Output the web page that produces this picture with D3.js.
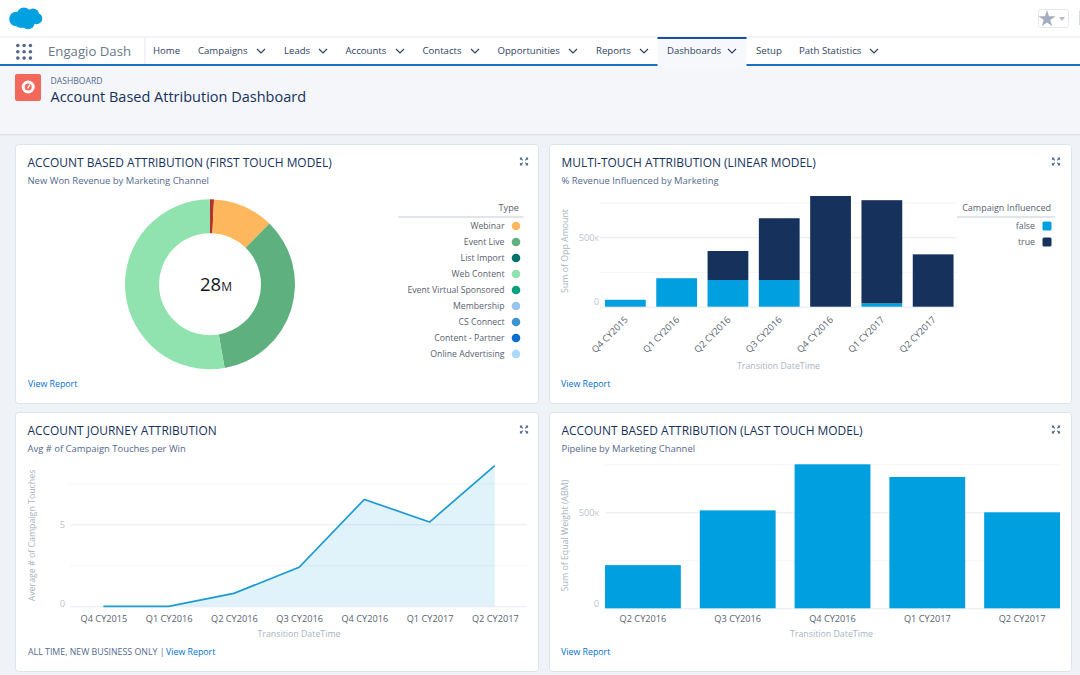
<!DOCTYPE html>
<html>
<head>
<meta charset="utf-8">
<title>Account Based Attribution Dashboard</title>
<script src="https://cdn.jsdelivr.net/npm/d3@7"></script>
<style>
  html, body { margin: 0; padding: 0; background: #f4f6f9; overflow: hidden; }
  svg { display: block; }
  text { font-family: "Open Sans", "Noto Sans", sans-serif; }
  .domain { display: none; }
</style>
</head>
<body>
<svg id="page" width="1080" height="675"></svg>
<script>
// nav bar
var navItems = ['Home', 'Campaigns', 'Leads', 'Accounts', 'Contacts', 'Opportunities', 'Reports', 'Dashboards', 'Setup', 'Path Statistics'];
var navX = [153, 198, 284, 345.5, 422.5, 497.5, 596, 667, 756, 799];
var navChevronX = [null, 261, 323, 400, 475, 573, 644, 732, null, 874];

// donut
var donutNames = ['Unlabelled', 'Webinar', 'Event Live', 'Web Content'];
var donutValues = [0.21, 3.24, 9.78, 14.77];
var donutColors = ['#b5332b', '#ffb75d', '#5eb17e', '#90e3ae'];
var legendTypes = ['Webinar', 'Event Live', 'List Import', 'Web Content', 'Event Virtual Sponsored', 'Membership', 'CS Connect', 'Content - Partner', 'Online Advertising'];
var legendColors = ['#ffb75d', '#5eb17e', '#00716b', '#90e3ae', '#04a07a', '#97c4f1', '#3a94cd', '#0b6fd0', '#a9daf7'];

// multi touch
var quarters = ['Q4 CY2015', 'Q1 CY2016', 'Q2 CY2016', 'Q3 CY2016', 'Q4 CY2016', 'Q1 CY2017', 'Q2 CY2017'];
var influencedFalse = [50000, 205000, 192000, 192000, 0, 24000, 0];
var influencedTrue = [0, 0, 209000, 445000, 797000, 743000, 377000];

// journey
var touches = [0, 0, 0.79, 2.38, 6.52, 5.14, 8.58];

// last touch
var pipelineQuarters = ['Q2 CY2016', 'Q3 CY2016', 'Q4 CY2016', 'Q1 CY2017', 'Q2 CY2017'];
var pipeline = [225000, 510000, 750000, 684000, 500000];

var moneyTicks = [0, 250000, 500000, 750000];
var touchTicks = [0, 2.5, 5, 7.5];

var BLUE = '#009fe0', NAVY = '#16325c', SLATE = '#54698d', LINK = '#0070d2', FAINT = '#a8b4c2', GREY = '#58626f';

var svg = d3.select('#page');

function label(parent, x, y, str, size, color, anchor) {
  return parent.append('text').attr('x', x).attr('y', y).attr('dy', '.35em')
    .attr('font-size', size).attr('fill', color).attr('text-anchor', anchor || 'start').text(str);
}

function drawChrome() {
  svg.append('rect').attr('width', 1080).attr('height', 37).attr('fill', '#fff');
  svg.append('rect').attr('y', 37).attr('width', 1080).attr('height', 27).attr('fill', '#fff');
  svg.append('rect').attr('y', 36.5).attr('width', 1080).attr('height', 1).attr('fill', '#e4e8ee');
  svg.append('rect').attr('y', 64).attr('width', 1080).attr('height', 2).attr('fill', '#1a6fc0');
  svg.append('rect').attr('y', 135).attr('width', 1080).attr('height', 540).attr('fill', '#eff3f7');
  svg.append('rect').attr('y', 134).attr('width', 1080).attr('height', 1.5).attr('fill', '#dfe3e9');

  // cloud logo
  var cloud = svg.append('g').attr('fill', '#00a1e0');
  [[16.5, 19, 7.3], [24, 14.5, 7], [33, 14.5, 6], [36.5, 18.5, 5.8], [28, 22.5, 6.8], [21, 22, 6]].forEach(function(c) {
    cloud.append('circle').attr('cx', c[0]).attr('cy', c[1]).attr('r', c[2]);
  });

  // star button
  svg.append('rect').attr('x', 1038.5).attr('y', 9.5).attr('width', 30).attr('height', 18).attr('rx', 2)
    .attr('fill', '#fff').attr('stroke', '#e4e8ee');
  svg.append('path').attr('d', d3.symbol(d3.symbolStar, 90)()).attr('transform', 'translate(1047,19)').attr('fill', '#a2aebd');
  svg.append('path').attr('d', 'M1059,17h6l-3,4z').attr('fill', '#b4bdc9');
  svg.append('rect').attr('x', 1079).attr('y', 11).attr('width', 1).attr('height', 14).attr('fill', '#d5dae1');

  // app launcher dots
  d3.range(3).forEach(function(r) {
    d3.range(3).forEach(function(c) {
      svg.append('circle').attr('cx', 17.8 + c * 6.3).attr('cy', 45.5 + r * 6.3).attr('r', 1.8).attr('fill', '#54698d');
    });
  });
  label(svg, 48, 51, 'Engagio Dash', 13.2, '#6b7888');
  svg.append('rect').attr('x', 144.5).attr('y', 37).attr('width', 1).attr('height', 27).attr('fill', '#e4e8ee');

  // active tab
  svg.append('rect').attr('x', 657.5).attr('y', 37).attr('width', 89).attr('height', 30).attr('fill', '#f6f8fb');
  svg.append('rect').attr('x', 657.5).attr('y', 37).attr('width', 89).attr('height', 2).attr('fill', '#1a4fa0');

  navItems.forEach(function(name, i) {
    label(svg, navX[i], 50.5, name, 9.6, '#2f4464');
    if (navChevronX[i] !== null) {
      var cx = navChevronX[i];
      svg.append('path').attr('d', 'M' + (cx - 4) + ',49l4,4l4,-4').attr('fill', 'none')
        .attr('stroke', '#2f4464').attr('stroke-width', 1.2);
    }
  });

  // page header
  svg.append('rect').attr('x', 15).attr('y', 74).attr('width', 26).attr('height', 27).attr('rx', 2).attr('fill', '#f2695b');
  svg.append('circle').attr('cx', 28.2).attr('cy', 87).attr('r', 5).attr('fill', 'none').attr('stroke', '#fff').attr('stroke-width', 3);
  svg.append('path').attr('d', 'M27.5,88.5l2.5,-4').attr('stroke', '#fff').attr('stroke-width', 1.4);
  label(svg, 50.5, 80.5, 'DASHBOARD', 8.6, SLATE);
  label(svg, 50.5, 96.5, 'Account Based Attribution Dashboard', 14.5, '#16325c');
}

function expandIcon(x, y) {
  var g = svg.append('g').attr('transform', 'translate(' + x + ',' + y + ')')
    .attr('fill', 'none').attr('stroke', '#54698d').attr('stroke-width', 1.2);
  [[-1, -1], [1, -1], [-1, 1], [1, 1]].forEach(function(s) {
    g.append('path').attr('d', 'M' + s[0] * 3.5 + ',' + s[1] * 1.8 + 'V' + s[1] * 3.5 + 'H' + s[0] * 1.8 + 'M' + s[0] * 3.2 + ',' + s[1] * 3.2 + 'L' + s[0] * 1.2 + ',' + s[1] * 1.2);
  });
}

function card(x, y, w, h, title, sub, iconX) {
  svg.append('rect').attr('x', x + 0.5).attr('y', y + 0.5).attr('width', w).attr('height', h)
    .attr('rx', 3).attr('fill', '#fff').attr('stroke', '#dde3ea');
  label(svg, x + 12.5, y + 18.5, title, 11.95, NAVY);
  label(svg, x + 12.5, y + 36.5, sub, 9.45, SLATE);
  expandIcon(iconX, y + 17.5);
}

function viewReport(x, y) {
  label(svg, x, y, 'View Report', 8.8, LINK);
}

// grid lines + labels for a value axis
function valueAxis(scale, ticks, left, right, labelRight, zeroLift, fmt) {
  var g = svg.append('g').attr('transform', 'translate(' + left + ',0)');
  g.call(d3.axisLeft(scale).tickValues(ticks).tickSize(left - right).tickFormat(fmt));
  g.selectAll('.tick line').attr('stroke', function(d, i) { return i % 2 ? '#f3f5f8' : '#e6ebf1'; });
  g.selectAll('.tick text').attr('x', labelRight - left).attr('fill', '#bcc5d0').attr('font-size', 9.4).style('font-variant', 'small-caps');
  g.selectAll('.tick text').filter(function(d) { return d === 0; }).attr('y', -zeroLift);
  return g;
}

function moneyFormat(d) {
  if (d === 0) return '0';
  return d === 500000 ? d / 1000 + 'k' : '';
}

function yTitle(x, y, str) {
  svg.append('text').attr('transform', 'translate(' + x + ',' + y + ') rotate(-90)')
    .attr('dy', '.35em').attr('text-anchor', 'middle').attr('font-size', 8.8).attr('fill', FAINT).text(str);
}

function drawDonut() {
  card(15, 144, 523, 259, 'ACCOUNT BASED ATTRIBUTION (FIRST TOUCH MODEL)', 'New Won Revenue by Marketing Channel', 524);
  var g = svg.append('g').attr('transform', 'translate(210,284.3)');
  var pie = d3.pie().sort(null);
  var arc = d3.arc().innerRadius(51).outerRadius(85);
  g.selectAll('path').data(pie(donutValues)).enter().append('path')
    .attr('d', arc).attr('fill', function(d, i) { return donutColors[i]; });

  var total = g.append('text').attr('x', 6).attr('text-anchor', 'middle').attr('y', 0).attr('dy', '.35em')
    .attr('font-size', 18.5).attr('fill', '#16191f').text(Math.round(d3.sum(donutValues)));
  total.append('tspan').attr('font-size', 12).text('M');

  label(svg, 519, 208, 'Type', 9.2, GREY, 'end');
  svg.append('rect').attr('x', 398.5).attr('y', 216.5).attr('width', 125).attr('height', 1).attr('fill', '#c4ccd6');
  legendTypes.forEach(function(name, i) {
    label(svg, 504.5, 226 + i * 16, name, 8.7, GREY, 'end');
    svg.append('circle').attr('cx', 516).attr('cy', 226 + i * 16).attr('r', 4.3).attr('fill', legendColors[i]);
  });
  viewReport(28, 384);
}

function drawMultiTouch() {
  card(549, 144, 522, 259, 'MULTI-TOUCH ATTRIBUTION (LINEAR MODEL)', '% Revenue Influenced by Marketing', 1056);
  var x = d3.scaleBand().domain(quarters).range([599.7, 958.8]).paddingInner(0.205).paddingOuter(0.1025);
  var y = d3.scaleLinear().domain([0, 800000]).range([306.7, 195.6]);
  valueAxis(y, moneyTicks, 957, 600, 599, 5, moneyFormat);

  var rows = quarters.map(function(q, i) { return {q: q, 'false': influencedFalse[i], 'true': influencedTrue[i]}; });
  var stack = d3.stack().keys(['false', 'true'])(rows);
  var fills = {'false': BLUE, 'true': '#16325c'};
  stack.forEach(function(layer) {
    svg.append('g').attr('fill', fills[layer.key]).selectAll('rect').data(layer).enter().append('rect')
      .attr('x', function(d) { return x(d.data.q); })
      .attr('y', function(d) { return y(d[1]); })
      .attr('width', x.bandwidth())
      .attr('height', function(d) { return y(d[0]) - y(d[1]); });
  });

  var ax = svg.append('g').attr('transform', 'translate(0,306.7)').call(d3.axisBottom(x).tickSize(0).tickPadding(8));
  ax.selectAll('text').attr('font-size', 9.2).attr('fill', GREY).attr('text-anchor', 'end')
    .attr('dx', '.35em').attr('dy', '.35em').attr('transform', 'translate(-7,8) rotate(-45)');

  yTitle(565, 251, 'Sum of Opp Amount');
  label(svg, 778.5, 366, 'Transition DateTime', 8.8, FAINT, 'middle');

  label(svg, 1051, 207.5, 'Campaign Influenced', 9, GREY, 'end');
  svg.append('rect').attr('x', 957).attr('y', 216.5).attr('width', 98).attr('height', 1).attr('fill', '#c4ccd6');
  ['false', 'true'].forEach(function(k, i) {
    label(svg, 1035, 226 + i * 16, k, 8.8, GREY, 'end');
    svg.append('rect').attr('x', 1042.5).attr('y', 221.5 + i * 16).attr('width', 9).attr('height', 9).attr('rx', 1.5).attr('fill', fills[k]);
  });
  viewReport(561, 384);
}

function drawJourney() {
  card(15, 412, 523, 259, 'ACCOUNT JOURNEY ATTRIBUTION', 'Avg # of Campaign Touches per Win', 524);
  var x = d3.scalePoint().domain(quarters).range([70.8, 527.4]).padding(0.5);
  var y = d3.scaleLinear().domain([0, 8.6]).range([606.3, 465.3]);
  valueAxis(y, touchTicks, 527, 70, 65, 3, function(d) { return d % 5 === 0 ? d : ''; });

  var area = d3.area().x(function(d, i) { return x(quarters[i]); }).y0(y(0)).y1(function(d) { return y(d); });
  var line = d3.line().x(function(d, i) { return x(quarters[i]); }).y(function(d) { return y(d); });
  svg.append('path').attr('d', area(touches)).attr('fill', BLUE).attr('fill-opacity', 0.12);
  svg.append('path').attr('d', line(touches)).attr('fill', 'none').attr('stroke', '#1b9bd1').attr('stroke-width', 1.7);

  var ax = svg.append('g').attr('transform', 'translate(0,606.3)').call(d3.axisBottom(x).tickSize(0).tickPadding(9));
  ax.selectAll('text').attr('font-size', 9.2).attr('fill', GREY);

  yTitle(31.5, 535.5, 'Average # of Campaign Touches');
  label(svg, 299, 634, 'Transition DateTime', 8.8, FAINT, 'middle');
  label(svg, 28, 652, 'ALL TIME, NEW BUSINESS ONLY |', 8.8, SLATE);
  viewReport(166, 652);
}

function drawLastTouch() {
  card(549, 412, 522, 259, 'ACCOUNT BASED ATTRIBUTION (LAST TOUCH MODEL)', 'Pipeline by Marketing Channel', 1056);
  var x = d3.scaleBand().domain(pipelineQuarters).range([605, 1060]).paddingInner(0.2).paddingOuter(0);
  var y = d3.scaleLinear().domain([0, 750000]).range([608.3, 464.3]);
  valueAxis(y, moneyTicks, 1060, 605, 599, 5, moneyFormat);

  svg.append('g').attr('fill', BLUE).selectAll('rect').data(pipeline).enter().append('rect')
    .attr('x', function(d, i) { return x(pipelineQuarters[i]); })
    .attr('y', function(d) { return y(d); })
    .attr('width', x.bandwidth())
    .attr('height', function(d) { return y(0) - y(d); });

  var ax = svg.append('g').attr('transform', 'translate(0,608.3)').call(d3.axisBottom(x).tickSize(0).tickPadding(7));
  ax.selectAll('text').attr('font-size', 9.2).attr('fill', GREY);

  yTitle(565, 535.5, 'Sum of Equal Weight (ABM)');
  label(svg, 831.5, 634, 'Transition DateTime', 8.8, FAINT, 'middle');
  viewReport(561, 652);
}

drawChrome();
drawDonut();
drawMultiTouch();
drawJourney();
drawLastTouch();
</script>
</body>
</html>
